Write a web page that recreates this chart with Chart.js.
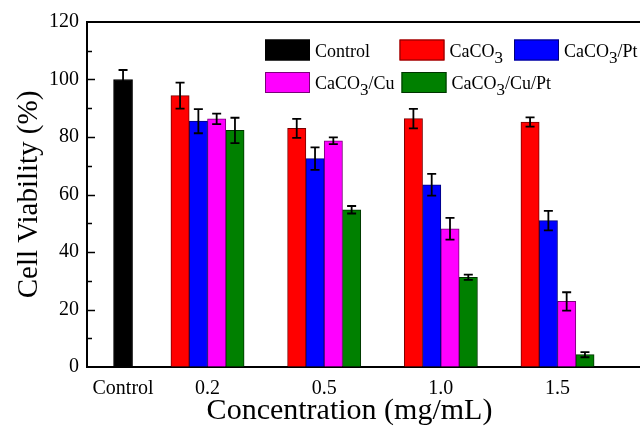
<!DOCTYPE html>
<html>
<head>
<meta charset="utf-8">
<script src="https://cdn.jsdelivr.net/npm/chart.js@4.4.0/dist/chart.umd.min.js"></script>
<style>
  body { margin: 0; background: #fff; }
  canvas { display: block; }
</style>
</head>
<body>
<canvas id="viabilityChart" width="640" height="429"></canvas>
<script>
// values (null = no bar in that category)
const categories = ['Control', '0.2', '0.5', '1.0', '1.5'];
const controlValues = [100, null, null, null, null];
const controlErrors = [3.3, null, null, null, null];
const caco3Values = [null, 94.4, 83.0, 86.4, 85.2];
const caco3Errors = [null, 4.5, 3.3, 3.4, 1.6];
const caco3PtValues = [null, 85.5, 72.5, 63.4, 50.9];
const caco3PtErrors = [null, 4.2, 3.9, 3.8, 3.4];
const caco3CuValues = [null, 86.3, 78.7, 48.1, 22.8];
const caco3CuErrors = [null, 1.8, 1.2, 3.8, 3.2];
const caco3CuPtValues = [null, 82.3, 54.7, 31.2, 4.3];
const caco3CuPtErrors = [null, 4.4, 1.3, 0.9, 0.9];
const yTicks = [0, 20, 40, 60, 80, 100, 120];

// where each category sits on the x axis (control is pulled in closer)
const slotPos = [0.276, 1, 2, 3, 4];
const serif = 'Liberation Serif';

function makeDataset(label, values, errors, fill, edge, extra) {
  const points = [];
  values.forEach((v, i) => {
    if (v !== null) points.push({ x: slotPos[i], y: v, err: errors[i] });
  });
  return Object.assign({
    label: label,
    data: points,
    backgroundColor: fill,
    borderColor: edge,
    borderWidth: 1,
    barThickness: 18.3,
    barPercentage: 1
  }, extra || {});
}

const datasets = [
  makeDataset('Control', controlValues, controlErrors, '#000000', '#000000', { grouped: false, barThickness: 19 }),
  makeDataset('CaCO3', caco3Values, caco3Errors, '#ff0000', '#7a0000'),
  makeDataset('CaCO3/Pt', caco3PtValues, caco3PtErrors, '#0000ff', '#00007a'),
  makeDataset('CaCO3/Cu', caco3CuValues, caco3CuErrors, '#ff00ff', '#7a007a'),
  makeDataset('CaCO3/Cu/Pt', caco3CuPtValues, caco3CuPtErrors, '#008000', '#003300')
];

// error bars: vertical line with caps, both directions
const errorBars = {
  id: 'errorBars',
  afterDatasetsDraw(chart) {
    const ctx = chart.ctx;
    const yScale = chart.scales.y;
    ctx.save();
    ctx.strokeStyle = '#000';
    ctx.lineWidth = 1.8;
    chart.data.datasets.forEach((ds, di) => {
      chart.getDatasetMeta(di).data.forEach((bar, i) => {
        const p = ds.data[i];
        const top = yScale.getPixelForValue(p.y + p.err);
        const bot = yScale.getPixelForValue(p.y - p.err);
        ctx.beginPath();
        ctx.moveTo(bar.x, top); ctx.lineTo(bar.x, bot);
        ctx.moveTo(bar.x - 4.5, top); ctx.lineTo(bar.x + 4.5, top);
        ctx.moveTo(bar.x - 4.5, bot); ctx.lineTo(bar.x + 4.5, bot);
        ctx.stroke();
      });
    });
    ctx.restore();
  }
};

// top frame line, inward y ticks, and the x title (sits a bit left of centre)
const frame = {
  id: 'frame',
  afterDraw(chart) {
    const ctx = chart.ctx;
    const area = chart.chartArea;
    const yScale = chart.scales.y;
    ctx.save();
    ctx.strokeStyle = '#000';
    ctx.lineWidth = 2;
    ctx.beginPath();
    ctx.moveTo(area.left - 1, area.top);
    ctx.lineTo(area.right, area.top);
    ctx.stroke();
    ctx.lineWidth = 1.5;
    for (let v = yScale.min + 10; v < yScale.max; v += 10) {
      const py = Math.round(yScale.getPixelForValue(v)) + 0.5;
      const len = v % 20 === 0 ? 8 : 5;
      ctx.beginPath();
      ctx.moveTo(area.left, py);
      ctx.lineTo(area.left + len, py);
      ctx.stroke();
    }
    ctx.fillStyle = '#000';
    ctx.font = '30px "' + serif + '"';
    ctx.textAlign = 'center';
    ctx.textBaseline = 'middle';
    ctx.fillText('Concentration (mg/mL)', (area.left + area.right) / 2 - 14, chart.height - 18);
    ctx.restore();
  }
};

// legend laid out in two rows inside the plot, with subscript 3
function drawLabel(ctx, text, x, y) {
  const parts = text.split('3');
  ctx.font = '18px "' + serif + '"';
  ctx.fillText(parts[0], x, y);
  if (parts.length < 2) return;
  x += ctx.measureText(parts[0]).width;
  ctx.font = '17px "' + serif + '"';
  ctx.fillText('3', x, y + 6);
  x += ctx.measureText('3').width;
  ctx.font = '18px "' + serif + '"';
  ctx.fillText(parts[1], x, y);
}

const boxLegend = {
  id: 'boxLegend',
  afterDraw(chart) {
    const ctx = chart.ctx;
    const spots = [[265, 39.5], [399.5, 39.5], [514, 39.5], [265, 72], [401.5, 72]];
    ctx.save();
    ctx.textBaseline = 'alphabetic';
    chart.data.datasets.forEach((ds, i) => {
      const [bx, by] = spots[i];
      ctx.fillStyle = ds.backgroundColor;
      ctx.fillRect(bx, by, 45, 21);
      ctx.strokeStyle = ds.borderColor;
      ctx.lineWidth = 1;
      ctx.strokeRect(bx + 0.5, by + 0.5, 44, 20);
      ctx.fillStyle = '#000';
      drawLabel(ctx, ds.label, bx + 50, by + 17);
    });
    ctx.restore();
  }
};

new Chart(document.getElementById('viabilityChart'), {
  type: 'bar',
  data: { datasets: datasets },
  plugins: [errorBars, frame, boxLegend],
  options: {
    responsive: false,
    animation: false,
    layout: { padding: { top: 22, right: 0, left: 0, bottom: 0 } },
    plugins: {
      legend: { display: false },
      tooltip: { enabled: false }
    },
    scales: {
      x: {
        type: 'linear',
        min: -0.033,
        max: 4.707,
        bounds: 'data',
        offset: false,
        grid: { drawOnChartArea: false, drawTicks: false },
        border: { display: true, color: '#000', width: 2 },
        afterBuildTicks: s => { s.ticks = slotPos.map(v => ({ value: v })); },
        ticks: {
          autoSkip: false,
          maxRotation: 0,
          padding: 10,
          color: '#000',
          font: { family: serif, size: 20 },
          callback: (v, i) => categories[i]
        },
        afterFit: s => { s.height = 62; }
      },
      y: {
        min: 0,
        max: 120,
        grid: { drawOnChartArea: false, drawTicks: false },
        border: { display: true, color: '#000', width: 2 },
        afterBuildTicks: s => { s.ticks = yTicks.map(v => ({ value: v })); },
        ticks: {
          padding: 8,
          color: '#000',
          font: { family: serif, size: 20 }
        },
        title: {
          display: true,
          text: 'Cell Viability (%)',
          color: '#000',
          font: { family: serif, size: 29 },
          padding: { top: 12, bottom: 0 }
        },
        afterFit: s => { s.width = 87; }
      }
    }
  }
});
</script>
</body>
</html>
